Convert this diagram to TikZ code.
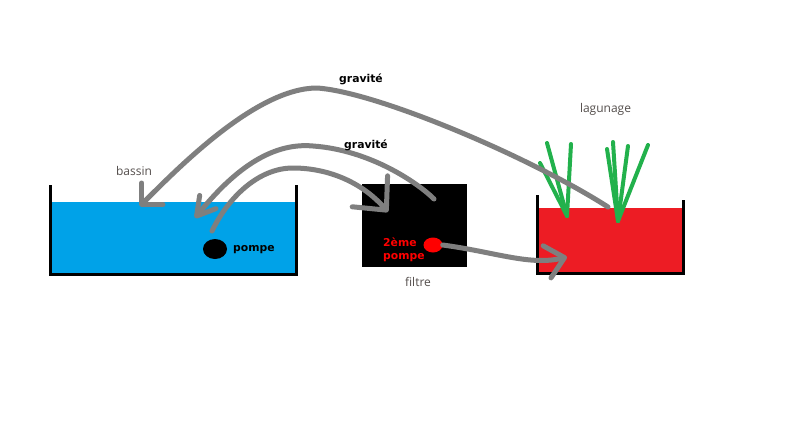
\documentclass[tikz,border=0pt]{standalone}
\usepackage{fontspec}
\setmainfont{Open Sans}
\newfontfamily\tagfont{DejaVu Sans}
\usetikzlibrary{arrows.meta,shapes.geometric}
\definecolor{pipegray}{RGB}{127,127,127}
\definecolor{waterblue}{RGB}{0,162,232}
\definecolor{lagunred}{RGB}{237,28,36}
\definecolor{grassgreen}{RGB}{34,177,76}
\definecolor{dotred}{RGB}{255,0,0}
\definecolor{labelgray}{RGB}{84,78,76}

\begin{document}
\begin{tikzpicture}[x=1pt, y=-1pt,
  pipe/.style = {draw=pipegray, line width=5pt, line cap=round},
  wall/.style = {draw=black, line width=3pt},
  grass/.style = {draw=grassgreen, line width=4pt, line cap=round},
  lbl/.style = {text=labelgray, font=\fontsize{12}{14}\selectfont,
    inner sep=0, anchor=base},
  tag/.style = {font=\tagfont\bfseries\fontsize{10.8}{13.5}\selectfont,
    inner sep=0, anchor=base}]
  \fill[white] (0,0) rectangle (800,445);
  \useasboundingbox (0,0) rectangle (800,445);

  \fill[waterblue] (52,202) rectangle (295,273);
  \draw[wall] (50.5,185) |- (296.5,274.5) -- (296.5,185);
  \fill[lagunred] (539,208) rectangle (682,272);
  \draw[wall] (537.5,195) |- (683.5,273.5) -- (683.5,200);

  \coordinate (plantA) at (567,216);
  \coordinate (plantB) at (618,221);
  \foreach \x/\y in {547/143, 571/144, 540/163}
    \draw[grass] (plantA) -- (\x,\y);
  \foreach \x/\y in {607/149, 613/142, 628/146, 648/145}
    \draw[grass] (plantB) -- (\x,\y);

  \node[fill=black, minimum width=105, minimum height=83, inner sep=0] (filtre) at (414.5,225.5) {};
  \node[ellipse, fill=black, minimum width=24, minimum height=20, inner sep=0] (pompe) at (215,249) {};
  \node[ellipse, fill=dotred, minimum width=19, minimum height=15, inner sep=0] (pompe2) at (433,245) {};

  \coordinate (lagOut) at (608,207);
  \coordinate (topA) at (317,88);
  \coordinate (basInA) at (140,206);
  \coordinate (filOut) at (434,199);
  \coordinate (topB) at (313,146);
  \coordinate (basInB) at (195,218);
  \coordinate (pumpOut) at (212,231);
  \coordinate (topC) at (293,168);
  \coordinate (filIn) at (388,212);
  \coordinate (lagIn) at (567,257);

  \draw[pipe, -{Straight Barb[length=15pt, width=30pt, round]}]
    (lagOut) .. controls (530,157) and (377,92) .. (topA)
    .. controls (257,88) and (180,166) .. (basInA);
  \draw[pipe, -{Straight Barb[length=18pt, width=21pt, round]}]
    (filOut) .. controls (418,183) and (370,150) .. (topB)
    .. controls (270,142) and (232,172) .. (basInB);
  \draw[pipe, -{Straight Barb[length=25pt, width=47pt, round]}]
    (pumpOut) .. controls (228,198) and (258,168) .. (topC)
    .. controls (325,168) and (360,180) .. (filIn);
  \draw[pipe, -{Straight Barb[length=18pt, width=33pt, round]}]
    (pompe2.east) .. controls (495,252) and (530,266) .. (lagIn);

  \node[tag] (gravA) at (361,82.5) {gravité};
  \node[tag] (gravB) at (366,148) {gravité};
  \node[tag, anchor=base west] (pompeTxt) at (233,251) {pompe};
  \node[tag, text=dotred, anchor=base west] (secondA) at (383,246) {2ème};
  \node[tag, text=dotred, anchor=base west] (secondB) at (383,259.5) {pompe};
  \node[lbl] (bassinTxt) at (134,175.5) {bassin};
  \node[lbl] (filtreTxt) at (418,286) {filtre};
  \node[lbl] (lagunageTxt) at (605.5,112.5) {lagunage};
\end{tikzpicture}
\end{document}
